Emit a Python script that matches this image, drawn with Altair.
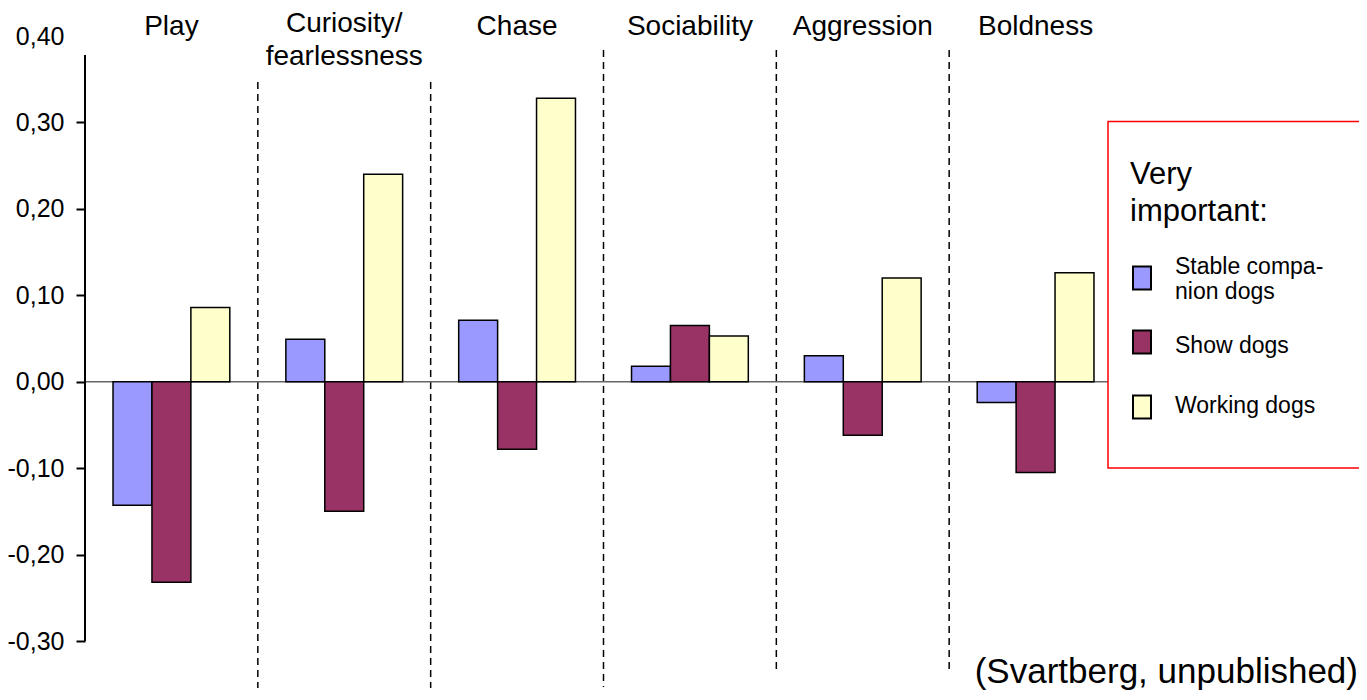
import altair as alt
import pandas as pd

# ---- data ----
categories = ["Play", "Curiosity/fearlessness", "Chase", "Sociability", "Aggression", "Boldness"]
category_labels = ["Play", "Curiosity/\nfearlessness", "Chase", "Sociability", "Aggression", "Boldness"]
series = ["Stable companion dogs", "Show dogs", "Working dogs"]
legend_labels = ["Stable compa-\nnion dogs", "Show dogs", "Working dogs"]
companion = [-0.143, 0.049, 0.071, 0.018, 0.030, -0.024]
show = [-0.232, -0.150, -0.078, 0.065, -0.062, -0.105]
working = [0.086, 0.240, 0.328, 0.053, 0.120, 0.126]
colors = ["#9999FF", "#993366", "#FFFFCC"]
y_ticks = [-0.3, -0.2, -0.1, 0.0, 0.1, 0.2, 0.3, 0.4]
legend_title = ["Very\nimportant:"]
annotation = ["(Svartberg, unpublished)"]

rows = []
for s, vals in zip(series, [companion, show, working]):
    for c, v in zip(categories, vals):
        rows.append({"category": c, "series": s, "value": v})
bars_df = pd.DataFrame(rows)
labels_df = pd.DataFrame({"category": categories, "label": category_labels})
legend_df = pd.DataFrame({"series": series, "label": legend_labels})
# separators lie on the boundaries between neighbouring categories
sep_df = pd.DataFrame({"boundary": list(range(1, len(categories)))})
note_df = pd.DataFrame({"text": annotation})
title_df = pd.DataFrame({"text": legend_title})
dummy = pd.DataFrame({"a": [0]})

W, H = 1037, 605
X0, Y0 = 85, 36  # page position of the plot origin
FONT = "Liberation Sans"

x_scale = alt.Scale(domain=categories, paddingInner=0, paddingOuter=0)
y_scale = alt.Scale(domain=[-0.3, 0.4], nice=False, zero=False)
sep_scale = alt.Scale(domain=[0, len(categories)], nice=False, zero=False)
color_scale = alt.Scale(domain=series, range=colors)

label_expr = "(datum.value < 0 ? '-' : '') + replace(format(abs(datum.value), '.2f'), '.', ',')"

bars = alt.Chart(bars_df).mark_bar(stroke="black", strokeWidth=1.5).encode(
    x=alt.X("category:N", scale=x_scale, axis=None, sort=categories),
    xOffset=alt.XOffset("series:N", sort=series,
                        scale=alt.Scale(domain=series, paddingInner=0, paddingOuter=0.72)),
    y=alt.Y("value:Q", scale=y_scale,
            axis=alt.Axis(values=y_ticks, labelExpr=label_expr, domain=False, grid=False,
                          tickSize=9, tickWidth=2, tickColor="black",
                          tickOpacity=alt.condition("datum.value > 0.35", alt.value(0), alt.value(1)),
                          labelFontSize=25, labelPadding=12, labelColor="black", title=None)),
    color=alt.Color("series:N", sort=series, scale=color_scale, legend=None),
)

zero_line = alt.Chart(dummy).mark_rule(color="#666666", strokeWidth=1.5).encode(
    y=alt.datum(0), x=alt.value(0), x2=alt.value(1108 - X0))

y_axis_line = alt.Chart(dummy).mark_rule(color="black", strokeWidth=2).encode(
    x=alt.value(0), y=alt.value(55 - Y0), y2=alt.value(H))

sep_style = dict(color="black", strokeWidth=1.5, strokeDash=[7, 5])
def sep_layer(which, top, bottom):
    return alt.Chart(sep_df).transform_filter(
        alt.FieldOneOfPredicate(field="boundary", oneOf=which)
    ).mark_rule(**sep_style).encode(
        x=alt.X("boundary:Q", scale=sep_scale, axis=None),
        y=alt.value(top - Y0), y2=alt.value(bottom - Y0))

seps = alt.layer(sep_layer([1, 2], 82, 688), sep_layer([3], 50, 687), sep_layer([4, 5], 50, 673))

cat_single = alt.Chart(labels_df).transform_filter(
    alt.FieldOneOfPredicate(field="category", oneOf=[c for c in categories if c != categories[1]])
).mark_text(fontSize=28, baseline="middle", color="black").encode(
    x=alt.X("category:N", scale=x_scale, sort=categories), y=alt.value(27 - Y0), text="label:N")
cat_multi = alt.Chart(labels_df).transform_filter(
    alt.FieldEqualPredicate(field="category", equal=categories[1])
).mark_text(fontSize=28, baseline="middle", lineBreak="\n", lineHeight=33, color="black").encode(
    x=alt.X("category:N", scale=x_scale, sort=categories), y=alt.value(24 - Y0), text="label:N")

legend_box = alt.Chart(dummy).mark_rect(fillOpacity=0, stroke="red", strokeWidth=1.5).encode(
    x=alt.value(1108 - X0), x2=alt.value(1420 - X0), y=alt.value(121.5 - Y0), y2=alt.value(468 - Y0))

legend_title_mark = alt.Chart(title_df).mark_text(
    fontSize=31, align="left", baseline="middle", lineBreak="\n", lineHeight=37, color="black"
).encode(x=alt.value(1130 - X0), y=alt.value(175 - Y0), text="text:N")

# legend entries: symbol centre and first text line per row
sym_centres = [278, 342, 407]
text_rows = [267, 346, 406]
legend_layers = []
for s, sc, tr in zip(series, sym_centres, text_rows):
    legend_layers.append(
        alt.Chart(legend_df).transform_filter(alt.FieldEqualPredicate(field="series", equal=s))
        .mark_rect(stroke="black", strokeWidth=2).encode(
            x=alt.value(1133 - X0), x2=alt.value(1151 - X0),
            y=alt.value(sc - 11.5 - Y0), y2=alt.value(sc + 11.5 - Y0),
            color=alt.Color("series:N", sort=series, scale=color_scale, legend=None)))
    legend_layers.append(
        alt.Chart(legend_df).transform_filter(alt.FieldEqualPredicate(field="series", equal=s))
        .mark_text(fontSize=23, align="left", baseline="middle", lineBreak="\n", lineHeight=25, color="black")
        .encode(x=alt.value(1175 - X0), y=alt.value(tr - Y0), text="label:N"))

note = alt.Chart(note_df).mark_text(fontSize=35, align="right", baseline="alphabetic", color="black").encode(
    x=alt.value(1358 - X0), y=alt.value(683 - Y0), text="text:N")

main = alt.layer(zero_line, bars, y_axis_line, cat_single, cat_multi, legend_box,
                 legend_title_mark, *legend_layers, note)

chart = alt.layer(seps, main).resolve_scale(x="independent").properties(
    width=W, height=H,
    padding={"left": X0 - 8, "top": Y0 - 8, "right": 1351 - (X0 - 8) - W, "bottom": 684 - (Y0 - 8) - H},
    autosize=alt.AutoSizeParams(type="none"),
).configure(font=FONT).configure_view(stroke=None)

chart.save("out.html", embed_options={"renderer": "svg", "actions": False})
